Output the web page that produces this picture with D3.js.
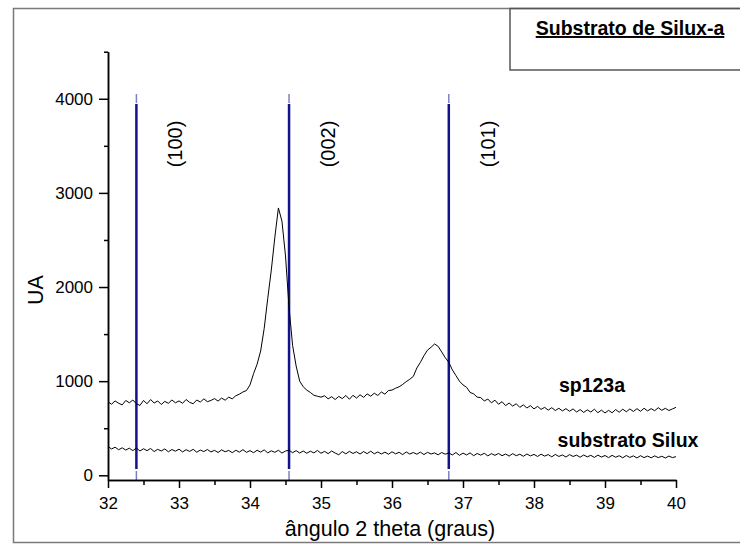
<!DOCTYPE html>
<html>
<head>
<meta charset="utf-8">
<script src="https://cdn.jsdelivr.net/npm/d3@7"></script>
<style>
  body { margin: 0; background: #fff; }
  svg { display: block; font-family: Arial, "Liberation Sans", sans-serif; }
</style>
</head>
<body>
<svg id="chart" width="740" height="545"></svg>
<script>
// sampling grid 2theta, 32.00 -> 40.00 step 0.05
twoTheta = d3.range(0, 161).map(i => 32 + i * 0.05);

sp123a = [
  780,755,790,765,748,795,770,800,760,742,
  795,760,805,768,790,752,785,765,800,770,
  790,765,805,775,760,800,778,812,782,795,
  815,788,820,798,830,812,845,862,885,900,
  960,1080,1180,1320,1560,1880,2180,2530,2840,2700,
  2330,1780,1380,1160,1000,940,905,880,850,840,
  830,845,812,835,805,838,815,848,808,850,
  820,855,828,865,840,872,848,885,862,900,
  905,925,940,965,995,1020,1050,1140,1200,1270,
  1330,1360,1395,1370,1310,1250,1200,1120,1060,1000,
  960,935,880,865,830,825,790,810,770,798,
  755,782,740,768,735,760,722,748,715,740,
  705,732,700,722,692,718,688,712,684,708,
  680,705,672,698,668,695,672,702,665,692,
  662,690,664,698,670,702,675,705,678,708,
  680,712,684,708,686,718,690,712,688,705,
  722
];

substratoSilux = [
  305,280,298,272,292,268,288,262,290,258,
  282,262,285,252,276,258,280,250,274,256,
  278,248,272,254,276,245,268,252,274,248,
  265,242,270,250,264,240,266,246,272,244,
  262,240,266,246,270,238,260,244,266,236,
  258,266,240,262,236,258,234,256,238,264,
  234,254,230,258,236,218,252,228,254,232,
  250,226,252,230,256,228,248,226,246,224,
  250,228,244,220,248,226,242,224,246,220,
  244,226,238,218,242,224,238,216,242,212,
  236,216,238,208,232,214,234,206,230,212,
  232,208,226,204,230,208,224,202,226,206,
  222,200,224,204,220,196,222,200,216,194,
  220,200,214,192,216,196,212,190,214,194,
  210,188,212,192,208,186,210,190,206,184,
  208,188,204,186,206,188,202,184,204,188,
  198
];

peakPos = [32.4, 34.55, 36.8];
peakLabels = ["(100)", "(002)", "(101)"];

xMajor = [32, 33, 34, 35, 36, 37, 38, 39, 40];
xMinor = [32.5, 33.5, 34.5, 35.5, 36.5, 37.5, 38.5, 39.5];
yMajor = [0, 1000, 2000, 3000, 4000];
yMinor = [500, 1500, 2500, 3500, 4500];

svg = d3.select("#chart");

x = d3.scaleLinear().domain([32, 40]).range([108, 676]);
y = d3.scaleLinear().domain([-50, 4500]).range([480, 51.7]);

// outer frame + title box
svg.append("rect")
    .attr("x", 13.5).attr("y", 8.5)
    .attr("width", 740).attr("height", 534)
    .attr("fill", "none")
    .attr("stroke", "#7a7a7a")
    .attr("stroke-width", 1.5);

svg.append("rect")
    .attr("x", 510).attr("y", 8.5)
    .attr("width", 240).attr("height", 61.5)
    .attr("fill", "none")
    .attr("stroke", "#555")
    .attr("stroke-width", 1.5);

svg.append("text")
    .attr("x", 630).attr("y", 35)
    .attr("text-anchor", "middle")
    .style("font-size", "19.5px")
    .style("font-weight", "bold")
    .style("text-decoration", "underline")
    .text("Substrato de Silux-a");

// reference lines
refs = svg.append("g").selectAll("g")
    .data(peakPos)
    .join("g");

refs.append("line")
    .attr("x1", d => x(d)).attr("x2", d => x(d))
    .attr("y1", y(4050)).attr("y2", y(3955))
    .attr("stroke", "#7f7fbf")
    .attr("stroke-width", 1.5);

refs.append("line")
    .attr("x1", d => x(d)).attr("x2", d => x(d))
    .attr("y1", y(3945)).attr("y2", y(67))
    .attr("stroke", "#12128c")
    .attr("stroke-width", 2.5);

refs.append("line")
    .attr("x1", d => x(d)).attr("x2", d => x(d))
    .attr("y1", y(46)).attr("y2", y(-50))
    .attr("stroke", "#7f7fbf")
    .attr("stroke-width", 1.5);

refs.append("text")
    .attr("transform", d => `translate(${x(d) + 46},${y(3520)}) rotate(-90)`)
    .attr("text-anchor", "middle")
    .style("font-size", "20px")
    .text((d, i) => peakLabels[i]);

// curves
line = d3.line()
    .x((d, i) => x(twoTheta[i]))
    .y(d => y(d));

svg.append("path")
    .attr("d", line(sp123a))
    .attr("fill", "none")
    .attr("stroke", "#000")
    .attr("stroke-width", 1);

svg.append("path")
    .attr("d", line(substratoSilux))
    .attr("fill", "none")
    .attr("stroke", "#000")
    .attr("stroke-width", 1);

// axes (minor ticks in their own groups so the major ones survive)
svg.append("g").attr("transform", "translate(0,480)")
    .call(d3.axisBottom(x).tickValues(xMinor).tickFormat("")
        .tickSize(5).tickSizeOuter(0));
svg.append("g").attr("transform", "translate(0,480)")
    .call(d3.axisBottom(x).tickValues(xMajor).tickFormat(d3.format("d"))
        .tickSize(8).tickSizeOuter(0).tickPadding(9));

svg.append("g").attr("transform", "translate(108,0)")
    .call(d3.axisLeft(y).tickValues(yMinor).tickFormat("")
        .tickSize(4).tickSizeOuter(0));
svg.append("g").attr("transform", "translate(108,0)")
    .call(d3.axisLeft(y).tickValues(yMajor).tickFormat(d3.format("d"))
        .tickSize(9).tickSizeOuter(0).tickPadding(6));

svg.selectAll(".domain, .tick line")
    .attr("stroke", "#000")
    .attr("stroke-width", 1.5);
svg.selectAll(".tick text")
    .attr("fill", "#000")
    .style("font-size", "17px")
    .style("font-family", "Arial, 'Liberation Sans', sans-serif");

svg.append("text")
    .attr("x", 390).attr("y", 536)
    .attr("text-anchor", "middle")
    .style("font-size", "21.5px")
    .text("ângulo 2 theta (graus)");

svg.append("text")
    .attr("transform", "translate(43,290) rotate(-90)")
    .attr("text-anchor", "middle")
    .style("font-size", "21.5px")
    .text("UA");

// series labels
svg.append("text")
    .attr("x", 592).attr("y", 392)
    .attr("text-anchor", "middle")
    .style("font-size", "19.5px")
    .style("font-weight", "bold")
    .text("sp123a");

svg.append("text")
    .attr("x", 628).attr("y", 447)
    .attr("text-anchor", "middle")
    .style("font-size", "19.5px")
    .style("font-weight", "bold")
    .text("substrato Silux");
</script>
</body>
</html>
